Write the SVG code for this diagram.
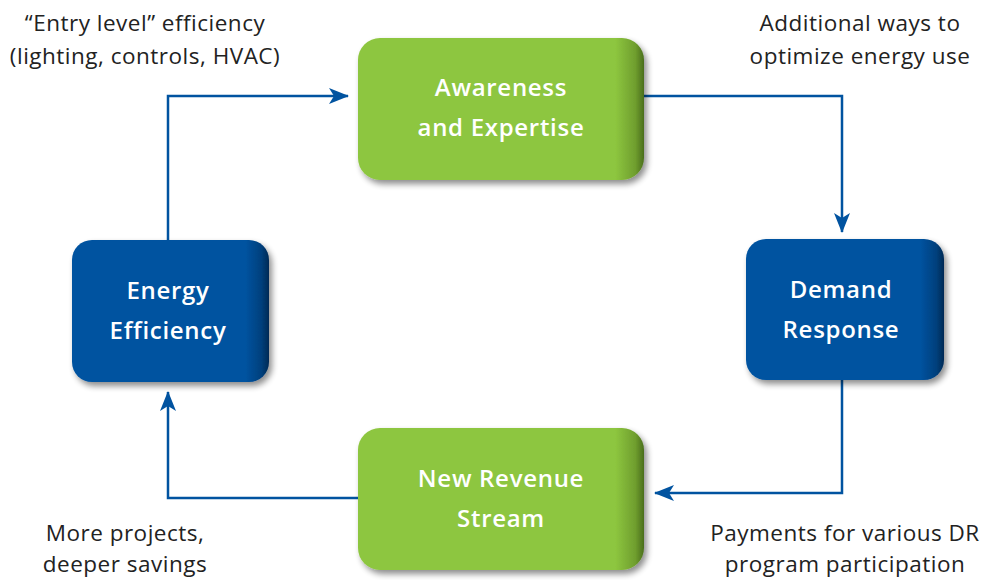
<svg xmlns="http://www.w3.org/2000/svg" width="982" height="580" viewBox="0 0 982 580">
  <defs>
    <linearGradient id="gGreen" x1="0" y1="0" x2="1" y2="0">
      <stop offset="0" stop-color="#8DC63F"/>
      <stop offset="0.9" stop-color="#8DC63F"/>
      <stop offset="0.97" stop-color="#6F9E2E"/>
      <stop offset="1" stop-color="#4A6E1C"/>
    </linearGradient>
    <linearGradient id="gBlue" x1="0" y1="0" x2="1" y2="0">
      <stop offset="0" stop-color="#0153A0"/>
      <stop offset="0.88" stop-color="#0153A0"/>
      <stop offset="0.96" stop-color="#01407D"/>
      <stop offset="1" stop-color="#002A55"/>
    </linearGradient>
    <filter id="shadow" x="-10%" y="-10%" width="125%" height="130%">
      <feGaussianBlur in="SourceAlpha" stdDeviation="3"/>
      <feOffset dx="3" dy="4" result="b"/>
      <feComponentTransfer><feFuncA type="linear" slope="0.45"/></feComponentTransfer>
      <feMerge><feMergeNode/><feMergeNode in="SourceGraphic"/></feMerge>
    </filter>
    <marker id="arrow" viewBox="0 0 20 16" refX="19" refY="8" markerWidth="20" markerHeight="16" markerUnits="userSpaceOnUse" orient="auto">
      <path d="M0,0 L20,8 L0,16 L5,8 Z" fill="#0153A0"/>
    </marker>
  </defs>
  <style>
    .conn { fill: none; stroke: #0153A0; stroke-width: 2.5; }
    .ntext { font-family: "Open Sans", "Noto Sans", sans-serif; font-weight: 600; font-size: 24px; letter-spacing: 0.7px; fill: #FFFFFF; text-anchor: middle; }
    .label { font-family: "Open Sans", "Noto Sans", sans-serif; font-size: 22.5px; letter-spacing: 0.5px; fill: #222222; text-anchor: middle; }
  </style>
  <rect width="982" height="580" fill="#FFFFFF"/>

  <g id="connectors">
    <path class="conn" d="M168,240 L168,96 L348,96" marker-end="url(#arrow)"/>
    <path class="conn" d="M643,96 L842,96 L842,232" marker-end="url(#arrow)"/>
    <path class="conn" d="M842,380 L842,493 L655,493" marker-end="url(#arrow)"/>
    <path class="conn" d="M358,498 L168,498 L168,392" marker-end="url(#arrow)"/>
  </g>

  <g id="node-awareness">
    <rect x="358" y="38" width="286" height="142" rx="22" fill="url(#gGreen)" filter="url(#shadow)"/>
    <text class="ntext" x="501" y="96">Awareness</text>
    <text class="ntext" x="501" y="136">and Expertise</text>
  </g>

  <g id="node-energy-efficiency">
    <rect x="72" y="240" width="197" height="142" rx="20" fill="url(#gBlue)" filter="url(#shadow)"/>
    <text class="ntext" x="168" y="299">Energy</text>
    <text class="ntext" x="168" y="339">Efficiency</text>
  </g>

  <g id="node-demand-response">
    <rect x="746" y="239" width="198" height="141" rx="20" fill="url(#gBlue)" filter="url(#shadow)"/>
    <text class="ntext" x="841" y="298">Demand</text>
    <text class="ntext" x="841" y="338">Response</text>
  </g>

  <g id="node-new-revenue">
    <rect x="358" y="428" width="286" height="142" rx="22" fill="url(#gGreen)" filter="url(#shadow)"/>
    <text class="ntext" x="501" y="487">New Revenue</text>
    <text class="ntext" x="501" y="527">Stream</text>
  </g>

  <g id="labels">
    <text class="label" x="145" y="31">“Entry level” efficiency</text>
    <text class="label" x="145" y="64">(lighting, controls, HVAC)</text>
    <text class="label" x="860" y="31">Additional ways to</text>
    <text class="label" x="860" y="64">optimize energy use</text>
    <text class="label" x="125" y="541">More projects,</text>
    <text class="label" x="125" y="572">deeper savings</text>
    <text class="label" x="845" y="541">Payments for various DR</text>
    <text class="label" x="845" y="572">program participation</text>
  </g>
</svg>
